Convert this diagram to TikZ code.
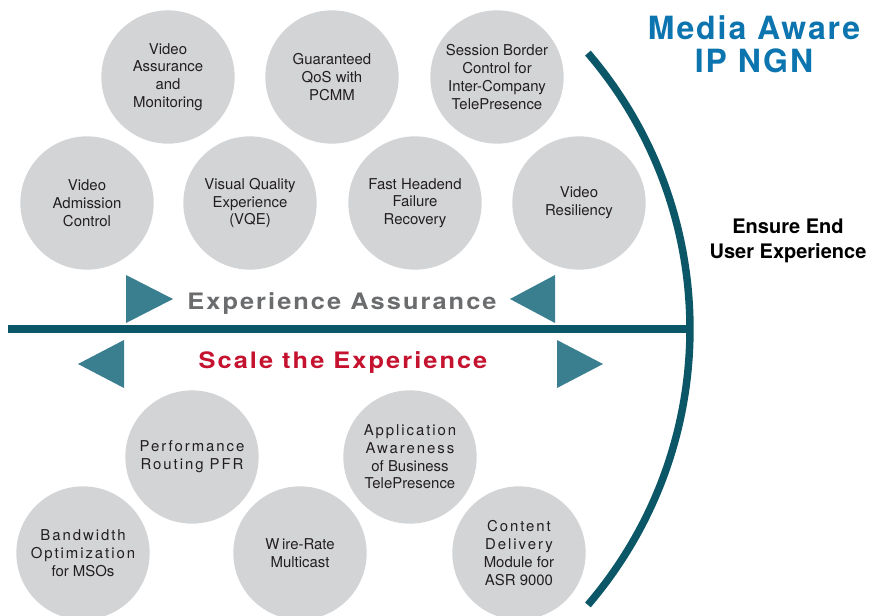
\documentclass[tikz,border=0pt]{standalone}
\usepackage{fontspec}
\setmainfont{TeX Gyre Heros}
\newfontfamily\trackedfont[LetterSpace=13]{TeX Gyre Heros}
\newfontfamily\bannerfont[LetterSpace=9,FakeStretch=1.12]{TeX Gyre Heros}
\newfontfamily\titlefont[LetterSpace=6]{TeX Gyre Heros}

\definecolor{bubblegray}{RGB}{211,212,214}
\definecolor{bubbletext}{RGB}{35,31,32}
\definecolor{ngnteal}{RGB}{11,87,103}
\definecolor{arrowteal}{RGB}{58,127,144}
\definecolor{assurgray}{RGB}{107,108,110}
\definecolor{scalered}{RGB}{196,18,47}
\definecolor{ngnblue}{RGB}{12,116,174}

\tikzset{every picture/.style={line width=0.75pt}}
\tikzset{
  bubble/.style={circle, fill=bubblegray, minimum size=100pt, inner sep=0pt,
    align=center, text=bubbletext, font=\fontsize{11.2}{13.3}\selectfont},
  banner/.style={anchor=base, inner sep=0.75pt, font=\bannerfont\bfseries\fontsize{17}{20}\selectfont},
  pointer/.style={fill=arrowteal, draw=none},
  divider/.style={draw=ngnteal, line width=5.6pt}
}

\begin{document}
\begin{tikzpicture}[x=0.75pt,y=0.75pt,yscale=-1,xscale=1]
	\useasboundingbox (0,0) rectangle (874,615);

	%Shape: Circle -- top row
	\node [bubble] (vam) at (168,77) {Video\\Assurance\\and\\Monitoring};
	\node [bubble] (qos) at (332,77) {Guaranteed\\QoS with\\PCMM};
	\node [bubble] (sbc) at (497,77) {Session Border\\Control for\\Inter-Company\\TelePresence};
	%Shape: Circle -- second row
	\node [bubble] (vac) at (87,203) {Video\\Admission\\Control};
	\node [bubble] (vqe) at (250,203) {Visual Quality\\Experience\\(VQE)};
	\node [bubble] (fhr) at (415,203) {Fast Headend\\Failure\\Recovery};
	\node [bubble] (vres) at (579,203) {Video\\Resiliency};
	%Shape: Circle -- lower half
	\node [bubble] (pfr) at (192,457) {{\trackedfont Performance}\\{\trackedfont Routing PFR}};
	\node [bubble] (appaware) at (410,457) {{\trackedfont Application}\\{\trackedfont Awareness}\\of Business\\TelePresence};
	\node [bubble] (bwopt) at (83,553) {{\trackedfont Bandwidth}\\{\trackedfont Optimization}\\for MSOs};
	\node [bubble] (wire) at (300,553) {W\kern2pt ire-Rate\\Multicast};
	\node [bubble] (cdm) at (519,553) {{\trackedfont Content}\\{\trackedfont Delivery}\\Module for\\ASR 9000};

	%Straight Lines
	\coordinate (lineL) at (8,329);
	\coordinate (lineR) at (690,329);
	\draw [divider] (lineL) -- (lineR);
	%Curve Lines
	\draw [divider] (266,329) ++(40.6:424) arc [start angle=40.6, end angle=-40.6, radius=424];

	%Shape: Triangle
	\fill [pointer] (126,275) -- (173,299) -- (126,323) -- cycle;
	\fill [pointer] (555,275) -- (510,299) -- (555,323) -- cycle;
	\fill [pointer] (124,340) -- (78,364) -- (124,388) -- cycle;
	\fill [pointer] (557,340) -- (603,364) -- (557,388) -- cycle;

	% Text Node
	\node [banner, text=assurgray] (assurance) at (342,309) {Experience Assurance};
	% Text Node
	\node [banner, text=scalered] (scale) at (343,368) {Scale the Experience};
	% Text Node
	\node [anchor=base, inner sep=0.75pt, text=ngnblue, font=\titlefont\bfseries\fontsize{24}{28}\selectfont] (title1) at (754,39) {Media Aware};
	\node [anchor=base, inner sep=0.75pt, text=ngnblue, font=\titlefont\bfseries\fontsize{24}{28}\selectfont] (title2) at (754,72) {IP NGN};
	% Text Node
	\node [anchor=base, inner sep=0.75pt, font=\bfseries\fontsize{15}{18}\selectfont] (ensure1) at (788,233) {Ensure End};
	\node [anchor=base, inner sep=0.75pt, font=\bfseries\fontsize{15}{18}\selectfont] (ensure2) at (788,258) {User Experience};
\end{tikzpicture}
\end{document}
